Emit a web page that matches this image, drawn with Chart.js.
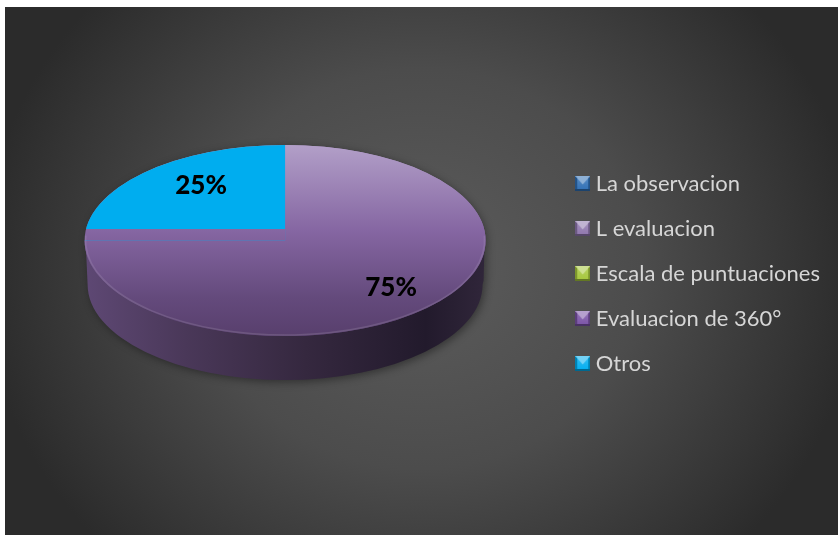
<!DOCTYPE html>
<html>
<head>
<meta charset="utf-8">
<style>
html,body{margin:0;padding:0;background:#fff;overflow:hidden}
#bg{position:absolute;left:5px;top:7px;width:833px;height:528px;
background:radial-gradient(ellipse 440px 400px at 416px 262px,#5c5c5c 0%,#4c4c4c 50%,#353535 85%,#2b2b2b 100%)}
canvas{position:absolute;left:0;top:0}
</style>
<script src="https://cdn.jsdelivr.net/npm/chart.js@4"></script>
</head>
<body>
<div id="bg"></div>
<canvas id="c" width="838" height="535"></canvas>
<script>
const categories = ["La observacion","L evaluacion","Escala de puntuaciones","Evaluacion de 360°","Otros"];
const values = [0,75,0,0,25];
const sliceColors = ["#2f6fb5","#8f76ad","#a5c63b","#7a52a6","#00adef"];
const labelOffsets = [null,[106,47],null,null,[-84,-55]];

const squash = 95.5/200.5;
const apexLift = 11.5;
const wallDepth = 44;

function shade(hex,f){
  const n=parseInt(hex.slice(1),16);
  const m=c=>Math.max(0,Math.min(255,Math.round(f>0?c+(255-c)*f:c*(1+f))));
  return `rgb(${m(n>>16)},${m((n>>8)&255)},${m(n&255)})`;
}
function marker(color){
  const s=15,cv=document.createElement('canvas');cv.width=s;cv.height=s;
  const x=cv.getContext('2d');
  x.fillStyle=shade(color,-0.25);x.fillRect(0,0,s,s);
  const g=x.createLinearGradient(0,0,0,s);
  g.addColorStop(0,shade(color,0.2));g.addColorStop(1,color);
  x.fillStyle=g;x.fillRect(2,2,s-4,s-4);
  const tri=(a,b,c,col)=>{x.fillStyle=col;x.beginPath();x.moveTo(...a);x.lineTo(...b);x.lineTo(...c);x.fill();};
  tri([0,0],[s,0],[s/2,s/2+1],shade(color,0.45));
  x.fillStyle=shade(color,-0.4);x.fillRect(0,s-2,s,2);
  return cv;
}
function faceGradient(ctx,area){
  const g=ctx.createLinearGradient(0,area.top,0,area.bottom);
  g.addColorStop(0,'#b29fc8');g.addColorStop(.45,'#8566a2');
  g.addColorStop(.8,'#644a7c');g.addColorStop(1,'#583f6d');
  return g;
}
function geom(chart){
  const a=chart.getDatasetMeta(0).data[1];
  return {x:a.x,y:a.y,r:a.outerRadius};
}
const pie3d={
  id:'pie3d',
  afterLayout(chart){chart.legend.top+=33;chart.legend.bottom+=33;},
  beforeDatasetsDraw(chart){
    const {ctx,chartArea,width,height}=chart,{x,y,r}=geom(chart),ry=r*squash;
    ctx.save();
    ctx.shadowColor='rgba(0,0,0,.4)';ctx.shadowBlur=8;ctx.shadowOffsetX=2;ctx.shadowOffsetY=2;
    const wall=ctx.createLinearGradient(x-r,0,x+r,0);
    wall.addColorStop(0,'#5e4874');wall.addColorStop(.25,'#4a3859');
    wall.addColorStop(.55,'#35283f');wall.addColorStop(.85,'#221a2c');wall.addColorStop(1,'#30263a');
    ctx.fillStyle=wall;
    ctx.beginPath();
    ctx.ellipse(x,y,r-1,ry,0,Math.PI,0,false);
    ctx.lineTo(x+r-2,y+wallDepth-4);
    ctx.ellipse(x,y+wallDepth,r-3,ry,0,0,Math.PI,false);
    ctx.closePath();ctx.fill();
    ctx.restore();
    ctx.save();
    ctx.translate(x,y);ctx.scale(1,squash);ctx.translate(-x,-y);
    ctx.fillStyle=faceGradient(ctx,chartArea);
    ctx.beginPath();ctx.arc(x,y,r,0,Math.PI*2);ctx.fill();
    ctx.restore();
    ctx.save();
    const p=new Path2D();
    p.rect(0,0,width,height);
    p.rect(0,y-apexLift,x,apexLift);
    ctx.clip(p,'evenodd');
    ctx.translate(x,y);ctx.scale(1,squash);ctx.translate(-x,-y);
  },
  afterDatasetsDraw(chart){
    const {ctx}=chart,{x,y,r}=geom(chart),ry=r*squash;
    ctx.restore();
    ctx.save();
    const rim=ctx.createLinearGradient(0,y-ry,0,y+ry);
    rim.addColorStop(0,'rgba(255,255,255,.02)');
    rim.addColorStop(.6,'rgba(255,255,255,.1)');
    rim.addColorStop(1,'rgba(255,255,255,.12)');
    ctx.strokeStyle=rim;ctx.lineWidth=1.5;
    ctx.beginPath();ctx.ellipse(x,y,r-1,ry-1,0,-0.05,Math.PI+0.05,false);ctx.stroke();
    ctx.fillStyle='#000';ctx.font='900 26px Lato';
    ctx.textAlign='center';ctx.textBaseline='middle';
    values.forEach((v,i)=>{
      if(v>0){const o=labelOffsets[i];ctx.fillText(v+'%',x+o[0],y+o[1]);}
    });
    ctx.restore();
  }
};
new Chart(document.getElementById('c'),{
  type:'pie',
  data:{labels:categories,datasets:[{data:values,clip:false,borderWidth:0,
    backgroundColor(c){
      if(c.dataIndex===1&&c.chart.chartArea) return faceGradient(c.chart.ctx,c.chart.chartArea);
      return sliceColors[c.dataIndex];
    }}]},
  options:{
    responsive:false,animation:false,
    layout:{padding:{left:12.5,top:40,bottom:94,right:8}},
    plugins:{
      tooltip:{enabled:false},
      legend:{
        position:'right',
        labels:{
          color:'#d6d6d6',font:{family:'Lato',size:22},usePointStyle:true,padding:23,boxHeight:15,pointStyleWidth:4,
          generateLabels(chart){
            return categories.map((t,i)=>({text:t,fontColor:'#d6d6d6',index:i,hidden:false,lineWidth:0,
              fillStyle:sliceColors[i],strokeStyle:sliceColors[i],pointStyle:marker(sliceColors[i])}));
          }
        }
      }
    }
  },
  plugins:[pie3d]
});
</script>
</body>
</html>
